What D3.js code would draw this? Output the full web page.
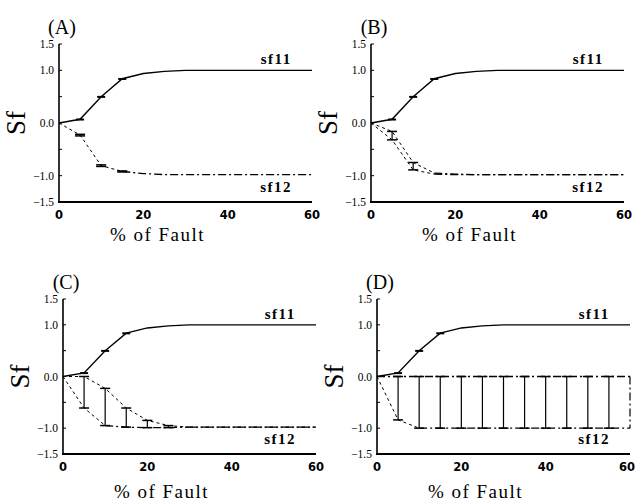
<!DOCTYPE html>
<html>
<head>
<meta charset="utf-8">
<script src="https://cdn.jsdelivr.net/npm/d3@7"></script>
<style>
  body { margin: 0; background: #fff; }
  svg { display: block; }
  .ytick { font-family: "Liberation Serif", serif; font-size: 11.5px; }
  .xtick { font-family: "DejaVu Sans", sans-serif; font-size: 11.5px; font-weight: bold; }
  .xtitle { font-family: "Liberation Serif", serif; font-size: 19px; letter-spacing: 1.5px; }
  .ytitle { font-family: "Liberation Serif", serif; font-size: 27px; }
  .tag { font-family: "Liberation Serif", serif; font-size: 20px; }
  .curve { font-family: "Liberation Serif", serif; font-size: 15px; font-weight: bold; letter-spacing: 1.5px; }
</style>
</head>
<body>
<div id="chart"></div>
<script>
var svgWidth = 636;
var svgHeight = 504;

// shared data
var faultPct = [0, 5, 10, 15, 20, 25, 30, 35, 40, 45, 50, 55, 60];
var yTicks = [1.5, 1.0, 0.0, -1.0, -1.5];
var xTicks = [0, 20, 40, 60];

var sf11 = [0, 0.07, 0.5, 0.84, 0.94, 0.98, 1.0, 1.0, 1.0, 1.0, 1.0, 1.0, 1.0];
var sf11Err = [0, 0.015, 0.015, 0.015, 0, 0, 0, 0, 0, 0, 0, 0, 0];

// (A) sf12 single curve
var sf12A = [0, -0.23, -0.81, -0.92, -0.96, -0.98, -0.98, -0.98, -0.98, -0.98, -0.98, -0.98, -0.98];
var sf12AErr = [0, 0.015, 0.015, 0.01, 0, 0, 0, 0, 0, 0, 0, 0, 0];

// (B) sf12 upper / lower
var sf12BHigh = [0, -0.16, -0.75, -0.95, -0.97, -0.98, -0.98, -0.98, -0.98, -0.98, -0.98, -0.98, -0.98];
var sf12BLow = [0, -0.32, -0.89, -0.97, -0.98, -0.98, -0.98, -0.98, -0.98, -0.98, -0.98, -0.98, -0.98];

// (C) sf12 upper / lower
var sf12CHigh = [0, 0.0, -0.23, -0.61, -0.85, -0.95, -0.98, -0.98, -0.98, -0.98, -0.98, -0.98, -0.98];
var sf12CLow = [0, -0.61, -0.95, -0.98, -0.99, -0.99, -0.98, -0.98, -0.98, -0.98, -0.98, -0.98, -0.98];

// (D) sf12 upper / lower
var sf12DHigh = [0, 0, 0, 0, 0, 0, 0, 0, 0, 0, 0, 0, 0];
var sf12DLow = [0, -0.84, -1.0, -1.0, -1.0, -1.0, -1.0, -1.0, -1.0, -1.0, -1.0, -1.0, -1.0];

var panels = [
  { tag: "(A)", left: 59, top: 44, bottom: 202, titleOffset: 39,
    high: sf12A, low: sf12A, barsLow: sf12A.map((v, i) => v - sf12AErr[i]), barsHigh: sf12A.map((v, i) => v + sf12AErr[i]), dashEnd: 15, lastBar: 15 },
  { tag: "(B)", left: 371, top: 44, bottom: 202, titleOffset: 39,
    high: sf12BHigh, low: sf12BLow, barsLow: sf12BLow, barsHigh: sf12BHigh, dashEnd: 15, lastBar: 10 },
  { tag: "(C)", left: 63, top: 299, bottom: 454, titleOffset: 44,
    high: sf12CHigh, low: sf12CLow, barsLow: sf12CLow, barsHigh: sf12CHigh, dashEnd: 10, highDashEnd: 30, lastBar: 25 },
  { tag: "(D)", left: 377, top: 299, bottom: 454, titleOffset: 44,
    high: sf12DHigh, low: sf12DLow, barsLow: sf12DLow, barsHigh: sf12DHigh, dashEnd: 10, highDashEnd: 0, lastBar: 55, closeEnd: true }
];

var plotWidth = 253;
var capHalf = 5;

var svg = d3.select("#chart")
  .append("svg")
  .attr("width", svgWidth)
  .attr("height", svgHeight);

function drawPanel(p) {
  var x = d3.scaleLinear().domain([0, 60]).range([p.left, p.left + plotWidth]);
  var y = d3.scaleLinear().domain([-1.5, 1.5]).range([p.bottom, p.top]);
  var g = svg.append("g");

  // axes
  g.append("line")
    .attr("x1", x(0)).attr("x2", x(0))
    .attr("y1", y(1.5)).attr("y2", y(-1.5))
    .attr("stroke", "#000").attr("stroke-width", 1.6);
  g.append("line")
    .attr("x1", x(0) - 1).attr("x2", x(60))
    .attr("y1", y(-1.5)).attr("y2", y(-1.5))
    .attr("stroke", "#000").attr("stroke-width", 2.2);

  g.selectAll(".ytk")
    .data([1.5, 1.0, 0.5, 0.0, -0.5, -1.0])
    .enter()
    .append("line")
    .attr("x1", x(0)).attr("x2", x(0) + 3)
    .attr("y1", d => y(d)).attr("y2", d => y(d))
    .attr("stroke", "#000").attr("stroke-width", 1);

  g.selectAll(".ytick")
    .data(yTicks)
    .enter()
    .append("text")
    .attr("class", "ytick")
    .attr("x", x(0) - 5)
    .attr("y", d => y(d) + 4)
    .attr("text-anchor", "end")
    .text(d => (d < 0 ? "\u2212" : "") + Math.abs(d).toFixed(1));

  // keep the last tick label inside the window
  g.selectAll(".xtick")
    .data(xTicks)
    .enter()
    .append("text")
    .attr("class", "xtick")
    .attr("x", d => Math.min(x(d), svgWidth - 9))
    .attr("y", y(-1.5) + 17)
    .attr("text-anchor", "middle")
    .text(d => d);

  g.append("text")
    .attr("class", "xtitle")
    .attr("x", x(30) - 28)
    .attr("y", y(-1.5) + p.titleOffset)
    .attr("text-anchor", "middle")
    .text("% of Fault");

  g.append("text")
    .attr("class", "ytitle")
    .attr("transform", `translate(${x(0) - 34}, ${y(0)}) rotate(-90)`)
    .attr("text-anchor", "middle")
    .text("Sf");

  g.append("text")
    .attr("class", "tag")
    .attr("x", x(0) + 3)
    .attr("y", y(1.5) - 10)
    .attr("text-anchor", "middle")
    .text(p.tag);

  var line = d3.line().x(d => x(d[0])).y(d => y(d[1]));

  // sf12 bounds: dashed on the steep part, dash-dot on the plateau
  function boundPath(vals, dashEnd) {
    var pts = faultPct.map((f, i) => [f, vals[i]]);
    g.append("path")
      .attr("d", line(pts.filter(d => d[0] <= dashEnd)))
      .attr("fill", "none").attr("stroke", "#000").attr("stroke-width", 1)
      .attr("stroke-dasharray", "3,3");
    g.append("path")
      .attr("d", line(pts.filter(d => d[0] >= dashEnd)))
      .attr("fill", "none").attr("stroke", "#000").attr("stroke-width", 1.3)
      .attr("stroke-dasharray", "8,3,2,3");
  }
  boundPath(p.low, p.dashEnd);
  if (p.high !== p.low) {
    boundPath(p.high, p.highDashEnd !== undefined ? p.highDashEnd : p.dashEnd);
  }

  // sf12 error bars
  var bars = faultPct.map((f, i) => ({ f: f, lo: p.barsLow[i], hi: p.barsHigh[i] }))
    .filter(d => d.f > 0 && d.f <= p.lastBar);
  var bg = g.selectAll(".bar").data(bars).enter().append("g");
  bg.append("line")
    .attr("x1", d => x(d.f)).attr("x2", d => x(d.f))
    .attr("y1", d => y(d.hi)).attr("y2", d => y(d.lo))
    .attr("stroke", "#000").attr("stroke-width", 1.2);
  bg.append("line")
    .attr("x1", d => x(d.f) - capHalf).attr("x2", d => x(d.f) + capHalf)
    .attr("y1", d => y(d.hi)).attr("y2", d => y(d.hi))
    .attr("stroke", "#000").attr("stroke-width", 1.5);
  bg.append("line")
    .attr("x1", d => x(d.f) - capHalf).attr("x2", d => x(d.f) + capHalf)
    .attr("y1", d => y(d.lo)).attr("y2", d => y(d.lo))
    .attr("stroke", "#000").attr("stroke-width", 1.5);

  if (p.closeEnd) {
    var last = faultPct.length - 1;
    g.append("line")
      .attr("x1", x(60)).attr("x2", x(60))
      .attr("y1", y(p.high[last])).attr("y2", y(p.low[last]))
      .attr("stroke", "#000").attr("stroke-width", 1.2)
      .attr("stroke-dasharray", "8,3,2,3");
  }

  // sf11 solid curve with small error bars
  g.append("path")
    .attr("d", line(faultPct.map((f, i) => [f, sf11[i]])))
    .attr("fill", "none").attr("stroke", "#000").attr("stroke-width", 1.4);
  g.selectAll(".e11")
    .data(faultPct.map((f, i) => ({ f: f, v: sf11[i], e: sf11Err[i] })).filter(d => d.e > 0))
    .enter()
    .append("rect")
    .attr("x", d => x(d.f) - 4)
    .attr("y", d => y(d.v + d.e))
    .attr("width", 8)
    .attr("height", d => Math.max(2, y(d.v - d.e) - y(d.v + d.e)))
    .attr("fill", "#000");

  g.append("text")
    .attr("class", "curve")
    .attr("x", x(51.5))
    .attr("y", y(1.0) - 6)
    .attr("text-anchor", "middle")
    .text("sf11");
  g.append("text")
    .attr("class", "curve")
    .attr("x", x(51.5))
    .attr("y", y(-1.0) + 16)
    .attr("text-anchor", "middle")
    .text("sf12");
}

panels.forEach(drawPanel);
</script>
</body>
</html>
